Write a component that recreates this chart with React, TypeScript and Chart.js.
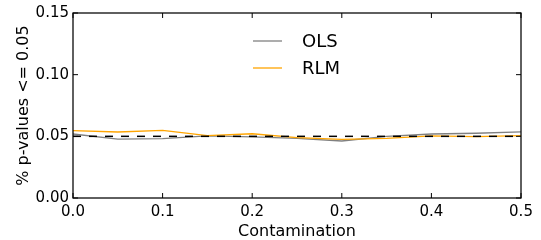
import { useEffect, useRef } from "react";
import { Chart, registerables } from "chart.js";

Chart.register(...registerables);

const contamination = [0, 0.05, 0.1, 0.15, 0.2, 0.25, 0.3, 0.35, 0.4, 0.45, 0.5];
const olsValues = [0.0519, 0.0478, 0.0482, 0.0503, 0.0495, 0.0484, 0.0462, 0.0499, 0.0519, 0.0525, 0.0536];
const rlmValues = [0.0546, 0.0535, 0.0548, 0.0505, 0.0521, 0.0489, 0.0476, 0.0484, 0.0503, 0.0497, 0.0505];
const referenceLevel = [0.05, 0.05];
const referenceX = [0, 0.5];
const seriesLabels = ["OLS", "RLM"];
const seriesColors = ["#808080", "#FFA500"];

const FONT = "'DejaVu Sans', sans-serif";

const boxAndTicks = {
  id: "boxAndTicks",
  afterDatasetsDraw(chart: any) {
    const { ctx, chartArea } = chart;
    const { left, right, top, bottom } = chartArea;
    ctx.save();
    ctx.strokeStyle = "#000";
    ctx.lineWidth = 1.25;
    ctx.strokeRect(left, top, right - left, bottom - top);
    const len = 5;
    ctx.lineWidth = 1;
    const xs = chart.scales.x;
    xs.ticks.forEach((t: any) => {
      const px = xs.getPixelForValue(t.value);
      ctx.beginPath();
      ctx.moveTo(px, bottom);
      ctx.lineTo(px, bottom - len);
      ctx.moveTo(px, top);
      ctx.lineTo(px, top + len);
      ctx.stroke();
    });
    const ys = chart.scales.y;
    ys.ticks.forEach((t: any) => {
      const py = ys.getPixelForValue(t.value);
      ctx.beginPath();
      ctx.moveTo(left, py);
      ctx.lineTo(left + len, py);
      ctx.moveTo(right, py);
      ctx.lineTo(right - len, py);
      ctx.stroke();
    });
    ctx.restore();
  },
};

const innerLegend = {
  id: "innerLegend",
  afterDatasetsDraw(chart: any) {
    const { ctx, chartArea } = chart;
    const cx = (chartArea.left + chartArea.right) / 2;
    const lineStart = cx - 44;
    const lineEnd = cx - 15;
    const textX = cx + 5;
    const rowY = [chartArea.top + 28, chartArea.top + 55];
    ctx.save();
    ctx.font = `18px ${FONT}`;
    ctx.textBaseline = "middle";
    ctx.textAlign = "left";
    seriesLabels.forEach((label, i) => {
      ctx.strokeStyle = seriesColors[i];
      ctx.lineWidth = 1.3;
      ctx.beginPath();
      ctx.moveTo(lineStart, rowY[i]);
      ctx.lineTo(lineEnd, rowY[i]);
      ctx.stroke();
      ctx.fillStyle = "#000";
      ctx.fillText(label, textX, rowY[i] + 1);
    });
    ctx.restore();
  },
};

export default function App() {
  const ref = useRef<HTMLCanvasElement | null>(null);

  useEffect(() => {
    document.body.style.margin = "0";
    const canvas = ref.current;
    if (!canvas) return;
    const chart = new Chart(canvas, {
      type: "line",
      data: {
        datasets: [
          {
            label: "",
            data: referenceX.map((x, i) => ({ x, y: referenceLevel[i] })),
            borderColor: "#000",
            borderWidth: 1.5,
            borderDash: [8, 8],
            pointRadius: 0,
            tension: 0,
          },
          {
            label: seriesLabels[1],
            data: contamination.map((x, i) => ({ x, y: rlmValues[i] })),
            borderColor: seriesColors[1],
            borderWidth: 1.3,
            pointRadius: 0,
            tension: 0,
          },
          {
            label: seriesLabels[0],
            data: contamination.map((x, i) => ({ x, y: olsValues[i] })),
            borderColor: seriesColors[0],
            borderWidth: 1.3,
            pointRadius: 0,
            tension: 0,
          },
        ],
      },
      options: {
        animation: false,
        responsive: false,
        devicePixelRatio: 1,
        layout: { padding: { top: 13, right: 20, left: 0, bottom: 0 } },
        plugins: {
          legend: { display: false },
          tooltip: { enabled: false },
        },
        scales: {
          x: {
            type: "linear",
            min: 0,
            max: 0.5,
            grid: { display: false, drawTicks: false },
            border: { display: false },
            ticks: {
              stepSize: 0.1,
              color: "#000",
              font: { family: FONT, size: 15 },
              padding: 5,
              maxRotation: 0,
              autoSkip: false,
              callback: (v: any) => Number(v).toFixed(1),
            },
            title: {
              display: true,
              text: "Contamination",
              color: "#000",
              font: { family: FONT, size: 16, lineHeight: 1 },
              padding: { top: 0, bottom: 0 },
            },
            afterFit: (s: any) => {
              s.height = 42;
            },
          },
          y: {
            type: "linear",
            min: 0,
            max: 0.15,
            grid: { display: false, drawTicks: false },
            border: { display: false },
            ticks: {
              stepSize: 0.05,
              color: "#000",
              font: { family: FONT, size: 15 },
              padding: 4,
              autoSkip: false,
              callback: (v: any) => Number(v).toFixed(2),
            },
            title: {
              display: true,
              text: "% p-values <= 0.05",
              color: "#000",
              font: { family: FONT, size: 16, lineHeight: 1.2 },
              padding: { top: 14, bottom: 0 },
            },
            afterFit: (s: any) => {
              s.width = 73;
            },
          },
        },
      },
      plugins: [boxAndTicks, innerLegend],
    });
    return () => chart.destroy();
  }, []);

  return (
    <canvas
      ref={ref}
      width={541}
      height={240}
      style={{ display: "block", width: 541, height: 240 }}
    />
  );
}
